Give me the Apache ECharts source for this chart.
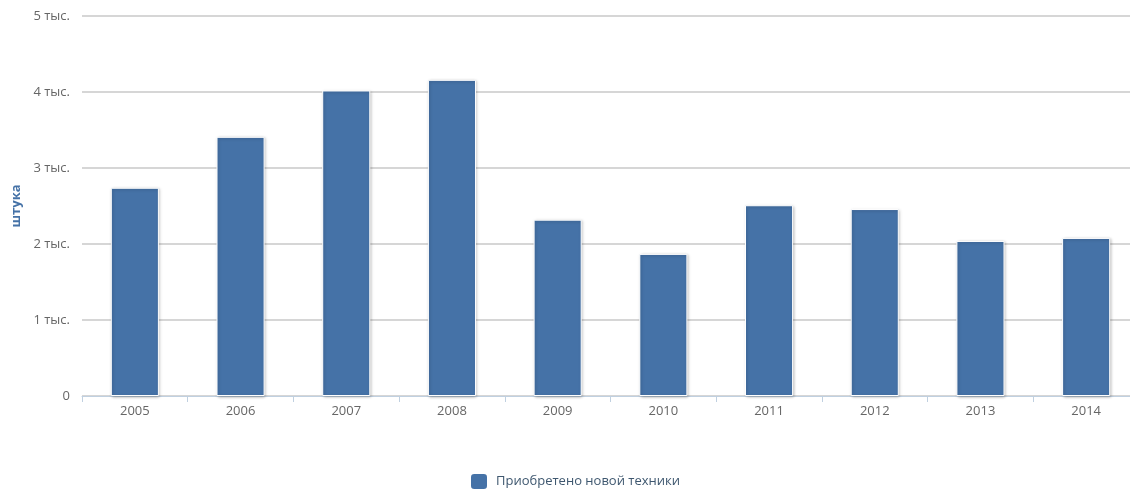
<!DOCTYPE html>
<html><head><meta charset="utf-8">
<script src="https://cdn.jsdelivr.net/npm/echarts@6/dist/echarts.min.js"></script>
<style>html,body{margin:0;padding:0;background:#fff;overflow:hidden}#c{width:1145px;height:491px}</style>
</head><body><div id="c"></div>
<script>
const categories = ['2005','2006','2007','2008','2009','2010','2011','2012','2013','2014'];
const values = [2740, 3410, 4020, 4160, 2320, 1870, 2510, 2460, 2040, 2080];
const seriesName = 'Приобретено новой техники';
const axisName = 'штука';

const chart = echarts.init(document.getElementById('c'), null, {renderer:'canvas'});
chart.setOption({
  animation:false,
  grid:{left:82, width:1057, top:16, height:380, containLabel:false},
  legend:{top:472, left:469, padding:0, itemWidth:18, itemHeight:17, icon:'roundRect',
    textStyle:{color:'#3E576F', fontSize:13, padding:[2,0,0,3], fontFamily:'Open Sans, DejaVu Sans, sans-serif'},
    data:[seriesName]},
  xAxis:{type:'category', data:categories,
    axisLine:{lineStyle:{color:'#C0D0E0', width:1}},
    axisTick:{show:true, length:6, lineStyle:{color:'#C0D0E0'}},
    axisLabel:{color:'#666', fontSize:13, margin:9, fontFamily:'Open Sans, DejaVu Sans, sans-serif'}},
  yAxis:{type:'value', min:0, max:5000, interval:1000,
    name:axisName, nameLocation:'middle', nameGap:58, nameRotate:90,
    nameTextStyle:{color:'#4572A7', fontWeight:'bold', fontSize:13, fontFamily:'Open Sans, DejaVu Sans, sans-serif'},
    axisLine:{show:false}, axisTick:{show:false},
    splitLine:{lineStyle:{color:'#C8C8C8', width:1.5}},
    axisLabel:{color:'#666', fontSize:13, margin:12, fontFamily:'Open Sans, DejaVu Sans, sans-serif',
      formatter:v => v===0 ? '0' : (v/1000)+' тыс.'}},
  series:[{type:'bar', name:seriesName, data:values, barWidth:'45.5%',
    itemStyle:{color:'#4572A7', borderColor:'#fff', borderWidth:1,
      shadowColor:'rgba(0,0,0,0.25)', shadowBlur:3, shadowOffsetX:1, shadowOffsetY:1}}]
});
</script></body></html>
